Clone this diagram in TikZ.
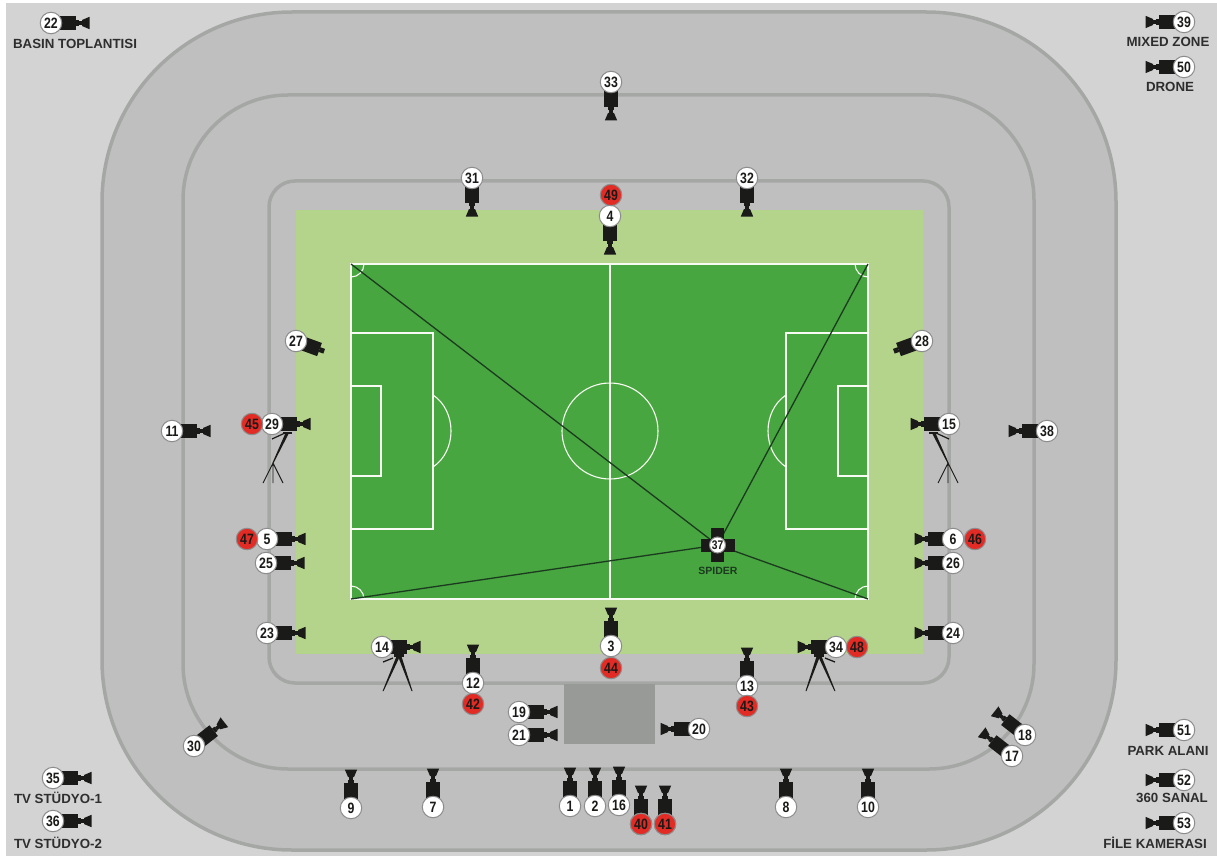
\documentclass[tikz,border=0pt]{standalone}
\usepackage{fontspec}
\setmainfont{Liberation Sans}
\newfontfamily\badgefont[FakeStretch=0.82]{Liberation Sans}
\definecolor{bgc}{HTML}{D3D3D3}
\definecolor{ringfill}{HTML}{BFBFBF}
\definecolor{ringline}{HTML}{A5A7A5}
\definecolor{verge}{HTML}{B5D48B}
\definecolor{pitch}{HTML}{47A63F}
\definecolor{blackc}{HTML}{1A1A18}
\definecolor{redc}{HTML}{E22B25}
\definecolor{boxc}{HTML}{989A98}
\definecolor{wire}{HTML}{1C3A20}
\tikzset{
  ring/.style={draw=ringline,line width=3.5pt,fill=ringfill},
  mark line/.style={draw=white!90!verge,line width=1.1pt},
  badge/.style={circle,draw=black!45,fill=white,line width=1pt,minimum size=21.5pt,inner sep=0pt,font=\badgefont\fontsize{15}{15}\selectfont\bfseries,text=blackc},
  redbadge/.style={badge,fill=redc},
  caption/.style={font=\fontsize{13.3}{13.3}\selectfont\bfseries,text=black!82,inner sep=0pt},
  camera/.pic={
    \fill[blackc] (4,-6.8) rectangle (25,6.8);
    \fill[blackc] (25,-2.6) rectangle (28,2.6);
    \fill[blackc] (28,-1.8) rectangle (32,1.8);
    \fill[blackc] (31,-3) -- (38.5,-6.2) -- (38.5,6.2) -- (31,3) -- cycle;
  },
  shortcam/.pic={
    \fill[blackc] (4,-7) rectangle (25,7);
    \fill[blackc] (25,-2.5) rectangle (30,2.5);
  },
  tripodside/.pic={
    \fill[blackc] (11,7.5) rectangle (20,10);
    \draw[blackc,line width=1.2pt] (0,15) -- (13,9);
    \fill[blackc] (13.5,9) -- (17,9) -- (1.6,39) -- (0.4,39) -- cycle;
    \draw[blackc,line width=0.9pt] (1,39) -- (-9,59) (1,39) -- (1,59) (1,39) -- (11,59);
  },
  tripodfront/.pic={
    \draw[blackc,line width=1.3pt] (1,15) -- (11,11);
    \fill[blackc] (12,6) rectangle (22,9.5);
    \fill[blackc] (15,8) -- (18.5,8) -- (1.6,44) -- (0.6,44) -- cycle;
    \fill[blackc] (15.5,8) -- (19,8) -- (30.5,44) -- (29.5,44) -- cycle;
  }
}
\newcommand{\cam}[4]{%
  \path (#2,#3) pic[rotate=#4] {camera};
  \node[badge] (c#1) at (#2,#3) {#1};}
\newcommand{\shcam}[4]{%
  \path (#2,#3) pic[rotate=#4] {shortcam};
  \node[badge] (c#1) at (#2,#3) {#1};}
\begin{document}
\begin{tikzpicture}[x=1pt,y=-1pt]
\useasboundingbox (0,0) rectangle (1217,861);
\fill[white] (0,0) rectangle (1217,861);
\fill[bgc] (6,3) rectangle (1217,856);
% stadium rings
\draw[ring,rounded corners=190pt] (102,12) rectangle (1116,850);
\draw[ring,rounded corners=105pt] (183,95) rectangle (1034,769);
\draw[ring,rounded corners=26pt] (269,181) rectangle (949,683);
\fill[boxc] (564,684) rectangle (655,744);
\fill[verge] (296,210) rectangle (923,654);
% pitch
\fill[pitch] (351,264) rectangle (868,599);
\draw[mark line] (351,264) rectangle (868,599);
\draw[mark line] (610,264) -- (610,599);
\draw[mark line] (610,431) circle[radius=48];
\draw[mark line] (351,333) rectangle (433,529);
\draw[mark line] (351,386) rectangle (381,476);
\draw[mark line] (786,333) rectangle (868,529);
\draw[mark line] (838,386) rectangle (868,476);
\draw[mark line] (433,395) .. controls (445,403) and (451,417) .. (451,431) .. controls (451,445) and (445,459) .. (433,467);
\draw[mark line] (786,395) .. controls (774,403) and (768,417) .. (768,431) .. controls (768,445) and (774,459) .. (786,467);
\draw[mark line] (364,264) arc[start angle=0,end angle=90,radius=13];
\draw[mark line] (855,264) arc[start angle=180,end angle=90,radius=13];
\draw[mark line] (351,586) arc[start angle=270,end angle=360,radius=13];
\draw[mark line] (868,586) arc[start angle=270,end angle=180,radius=13];
% spider
\coordinate (ctl) at (351,264);
\coordinate (ctr) at (868,264);
\coordinate (cbl) at (351,599);
\coordinate (cbr) at (868,599);
\coordinate (spiderhub) at (717.5,545);
\draw[wire,line width=1.3pt] (ctl) -- (spiderhub) (ctr) -- (spiderhub) (cbl) -- (spiderhub) (cbr) -- (spiderhub);
\fill[blackc] (711,528) rectangle (724,562);
\fill[blackc] (701,539) rectangle (735,552);
\node[badge,minimum size=16pt,font=\badgefont\fontsize{12.5}{12.5}\selectfont\bfseries] (c37) at (spiderhub) {37};
\node[font=\fontsize{10.5}{10.5}\selectfont\bfseries,text=wire,inner sep=0pt] (spiderlabel) at (718,571) {SPIDER};
% tripods
\path (272,424) pic {tripodside};
\path (949,424) pic[xscale=-1] {tripodside};
\path (382,647) pic {tripodfront};
\path (836,647) pic[xscale=-1] {tripodfront};
% cameras facing up (90), down (270), right (0), left (180)
\cam{1}{570}{806}{90}
\cam{2}{595}{806}{90}
\cam{16}{619}{805}{90}
\cam{40}{641}{824}{90}
\cam{41}{665}{824}{90}
\cam{9}{351}{808}{90}
\cam{7}{433}{807}{90}
\cam{8}{786}{807}{90}
\cam{10}{868}{807}{90}
\cam{3}{611}{646}{90}
\cam{12}{473}{683}{90}
\cam{13}{747}{686}{90}
\cam{4}{610}{216}{270}
\cam{31}{472}{178}{270}
\cam{32}{747}{178}{270}
\cam{33}{611}{82}{270}
\shcam{27}{296}{341}{-20}
\shcam{28}{922}{341}{200}
\cam{29}{272}{424}{0}
\cam{15}{949}{424}{180}
\cam{11}{172}{431}{0}
\cam{38}{1047}{431}{180}
\cam{5}{267}{539}{0}
\cam{25}{266}{563}{0}
\cam{6}{953}{539}{180}
\cam{26}{953}{563}{180}
\cam{23}{267}{633}{0}
\cam{24}{953}{633}{180}
\cam{14}{382}{647}{0}
\cam{34}{836}{647}{180}
\cam{30}{194}{746}{38}
\cam{19}{519}{712}{0}
\cam{21}{519}{735}{0}
\cam{20}{699}{729}{180}
\cam{17}{1012}{756}{142}
\cam{18}{1025}{735}{142}
\cam{22}{51}{23}{0}
\cam{35}{53}{778}{0}
\cam{36}{53}{821}{0}
\cam{39}{1184}{22}{180}
\cam{50}{1184}{67}{180}
\cam{51}{1184}{730}{180}
\cam{52}{1184}{780}{180}
\cam{53}{1184}{823}{180}
% red badges
\node[redbadge] (r44) at (611,668) {44};
\node[redbadge] (r42) at (473,704) {42};
\node[redbadge] (r43) at (747,706) {43};
\node[redbadge] (r49) at (611,195) {49};
\node[redbadge] (r45) at (252,424) {45};
\node[redbadge] (r47) at (247,539) {47};
\node[redbadge] (r46) at (975,539) {46};
\node[redbadge] (r48) at (857,647) {48};
\node[redbadge] (r40) at (c40) {40};
\node[redbadge] (r41) at (c41) {41};
% captions
\node[caption] (t22) at (75,44) {BASIN TOPLANTISI};
\node[caption] (t35) at (58,798) {TV STÜDYO-1};
\node[caption] (t36) at (58,843) {TV STÜDYO-2};
\node[caption] (t39) at (1168,42) {MIXED ZONE};
\node[caption] (t50) at (1170,87) {DRONE};
\node[caption] (t51) at (1168,751) {PARK ALANI};
\node[caption] (t52) at (1172,798) {360 SANAL};
\node[caption] (t53) at (1155,843) {FİLE KAMERASI};
\end{tikzpicture}
\end{document}
